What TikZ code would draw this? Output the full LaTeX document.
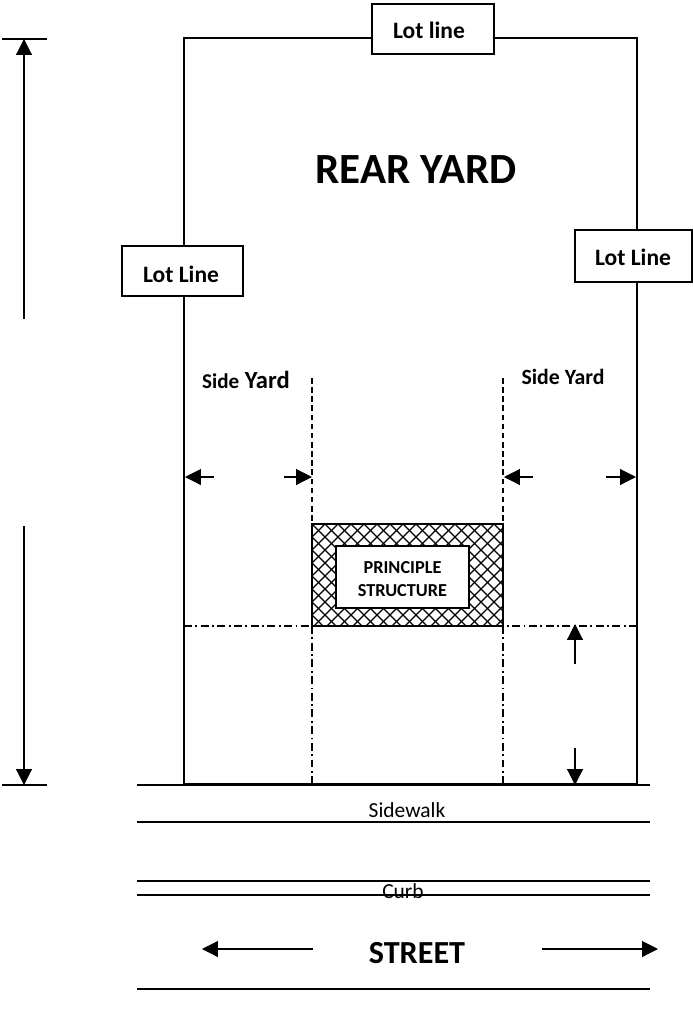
\documentclass[tikz,border=0pt]{standalone}
\usepackage{fontspec}
\setmainfont{Carlito}
\usetikzlibrary{arrows.meta, positioning}
\tikzset{
  lotbox/.style={draw, line width=0.8pt, fill=white, inner sep=0pt, anchor=center},
  lottext/.style={font=\bfseries\fontsize{13.4}{15}\selectfont},
  thinline/.style={line width=0.65pt},
  wall/.style={line width=0.85pt},
  dim/.style={line width=0.65pt, -{Triangle[width=9pt, length=9pt]}},
  sidedash/.style={line width=0.6pt, dash pattern=on 3.2pt off 2pt},
  dashdot/.style={line width=0.6pt, dash pattern=on 4.5pt off 2pt on 1pt off 2pt},
  plainlabel/.style={font=\fontsize{12.2}{14}\selectfont}
}
\begin{document}
\begin{tikzpicture}[x=0.02cm, y=-0.02cm]
        \useasboundingbox (0, 0) rectangle (693, 1019);
        % lot outline
        \draw[wall] (184, 785) -- (184, 38) -- (637, 38) -- (637, 785);
        \node[font=\bfseries\fontsize{24.5}{28}\selectfont] (rearyard) at (416, 170) {REAR YARD};
        % structure
        \coordinate (slt) at (312, 524);
        \coordinate (srt) at (503, 524);
        \coordinate (slb) at (312, 626);
        \coordinate (srb) at (503, 626);
        \begin{scope}
            \clip (slt) rectangle (srb);
            \foreach \i in {-8, ..., 32} {
                \draw[line width=0.75pt] (312 + 13*\i, 524) -- ++(120, 120);
                \draw[line width=0.75pt] (312 + 13*\i, 524) -- ++(-120, 120);
            }
        \end{scope}
        \draw[line width=1.1pt] (slt) rectangle (srb);
        \node[draw, line width=0.85pt, fill=white, minimum width=2.66cm, minimum height=1.24cm, inner sep=0pt] (structure) at (402.5, 577) {};
        \node[align=center, inner sep=0pt, font=\bfseries\fontsize{10.4}{12.8}\selectfont] (structuretext) at (402.5, 579) {PRINCIPLE\\STRUCTURE};
        % setback lines
        \coordinate (ldtop) at (312, 378);
        \coordinate (rdtop) at (503, 378);
        \coordinate (lstreet) at (312, 785);
        \coordinate (rstreet) at (503, 785);
        \coordinate (lfront) at (184, 626);
        \coordinate (rfront) at (637, 626);
        \draw[sidedash] (ldtop) -- (slt);
        \draw[sidedash] (rdtop) -- (srt);
        \draw[dashdot] (slb) -- (lstreet);
        \draw[dashdot] (srb) -- (rstreet);
        \draw[dashdot] (lfront) -- (slb);
        \draw[dashdot] (rfront) -- (srb);
        % lot line boxes
        \node[lotbox, minimum width=2.44cm, minimum height=1cm] (lottop) at (433, 29) {};
        \node[lotbox, minimum width=2.42cm, minimum height=1cm] (lotleft) at (182.5, 271) {};
        \node[lotbox, minimum width=2.34cm, minimum height=1.04cm] (lotright) at (633.5, 256) {};
        \node[lottext] (lottoptext) at (429, 30) {Lot line};
        \node[lottext] (lotlefttext) at (181, 274) {Lot Line};
        \node[lottext] (lotrighttext) at (633, 257) {Lot Line};
        \node[font=\bfseries\fontsize{14}{16}\selectfont] (sideleft) at (246, 380) {{\fontsize{12}{14}\selectfont Side} Yard};
        \node[font=\bfseries\fontsize{12.4}{14}\selectfont] (sideright) at (563, 377) {Side Yard};
        % side yard arrows
        \foreach \a/\b in {214/185, 284/312, 533/504, 606/636} {
            \coordinate (from\a) at (\a, 477);
            \coordinate (to\a) at (\b, 477);
            \draw[dim] (from\a) -- (to\a);
        }
        % front yard arrows
        \coordinate (fup) at (575, 664);
        \coordinate (fuptip) at (575, 624);
        \coordinate (fdown) at (575, 748);
        \coordinate (fdowntip) at (575, 785);
        \draw[dim] (fup) -- (fuptip);
        \draw[dim] (fdown) -- (fdowntip);
        % depth dimension
        \coordinate (dtop) at (24, 39);
        \coordinate (dtopfrom) at (24, 319);
        \coordinate (dbot) at (24, 785);
        \coordinate (dbotfrom) at (24, 526);
        \draw[thinline] (2, 39) -- (47, 39);
        \draw[thinline] (2, 785) -- (47, 785);
        \draw[dim] (dtopfrom) -- (dtop);
        \draw[dim] (dbotfrom) -- (dbot);
        % street
        \foreach \y in {785, 822, 881, 895, 989} {
            \draw[thinline] (137, \y) -- (650, \y);
        }
        \draw[line width=1.2pt] (184, 784.5) -- (637, 784.5);
        \node[plainlabel] (sidewalk) at (407, 810) {Sidewalk};
        \node[plainlabel] (curb) at (403, 891) {Curb};
        \node[font=\bfseries\fontsize{18.3}{21}\selectfont] (street) at (417, 953) {STREET};
        \coordinate (sleft) at (202, 949);
        \coordinate (sright) at (658, 949);
        \coordinate (slfrom) at (313, 949);
        \coordinate (srfrom) at (542, 949);
        \draw[dim] (slfrom) -- (sleft);
        \draw[dim] (srfrom) -- (sright);
    \end{tikzpicture}
\end{document}
